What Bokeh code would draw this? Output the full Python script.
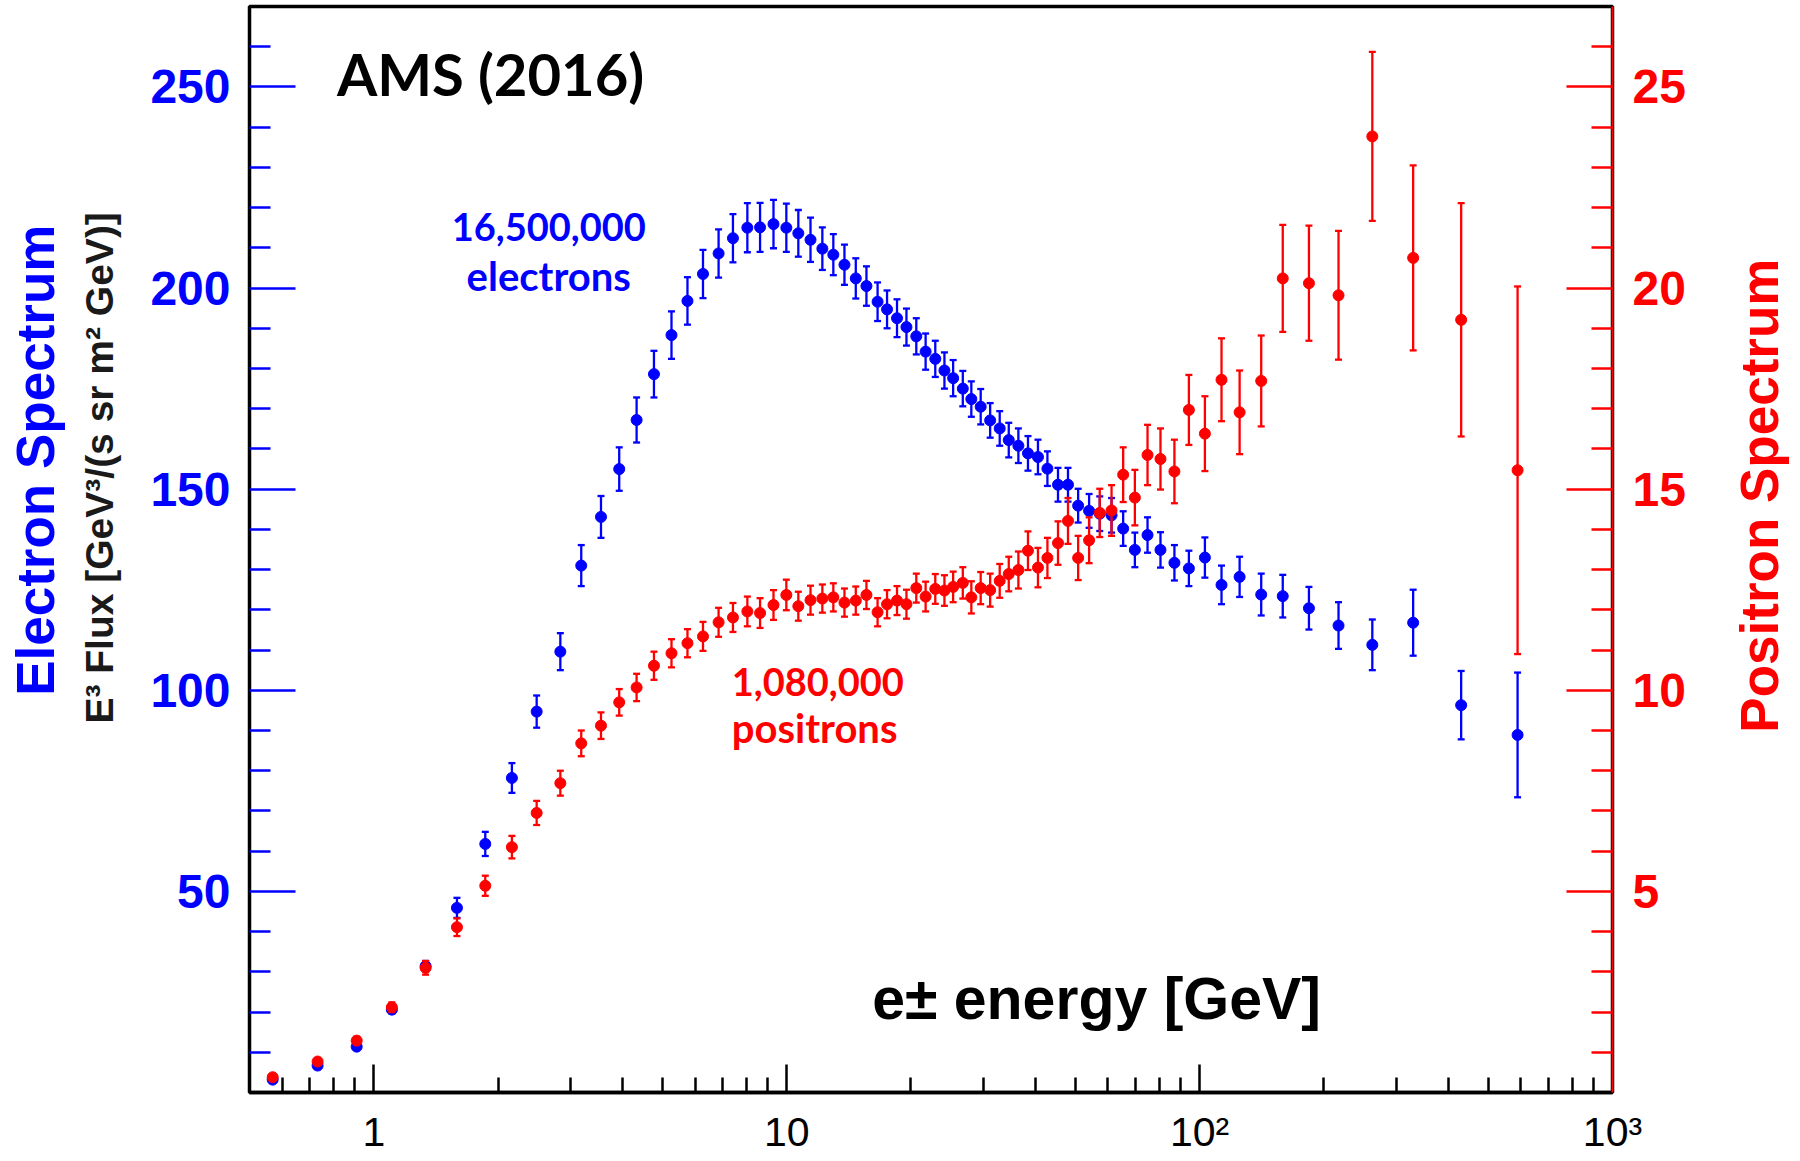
import math
from bokeh.plotting import figure
from bokeh.layouts import row
from bokeh.models import LinearAxis, Range1d, FixedTicker, Label
from bokeh.core.properties import value
from bokeh.embed import file_html
from bokeh.resources import INLINE

# ---------------- data ----------------
energy = [0.569, 0.731, 0.909, 1.106, 1.335, 1.59, 1.862, 2.16, 2.48, 2.83,
          3.18, 3.55, 3.93, 4.33, 4.77, 5.26, 5.75, 6.27, 6.84, 7.41,
          8.03, 8.62, 9.29, 9.98, 10.67, 11.42, 12.2, 12.97, 13.8, 14.7,
          15.6, 16.6, 17.5, 18.5, 19.5, 20.6, 21.7, 22.9, 24.1, 25.3,
          26.7, 28.0, 29.5, 31.1, 32.8, 34.5, 36.4, 38.4, 40.6, 42.8,
          45.4, 48.0, 50.8, 54.0, 57.3, 61.2, 65.3, 69.7, 74.8, 80.4,
          86.9, 94.2, 103, 113, 125, 141, 159, 184, 217, 262,
          329, 430, 589]

electron_flux = [3.2, 6.7, 11.4, 20.6, 31.4, 45.9, 61.8, 78.2, 94.7, 109.6,
                 131.0, 143.1, 155.0, 167.2, 178.6, 188.3, 196.8, 203.5, 208.6, 212.4,
                 215.0, 215.1, 215.9, 215.0, 213.6, 212.0, 209.8, 208.3, 205.8, 202.4,
                 200.5, 196.6, 194.7, 192.5, 190.3, 188.0, 184.2, 182.4, 179.5, 177.6,
                 175.0, 172.4, 170.5, 167.1, 165.1, 162.2, 160.8, 158.9, 158.0, 155.1,
                 151.1, 151.1, 145.9, 144.6, 143.9, 143.5, 140.2, 134.9, 138.6, 134.9,
                 131.7, 130.3, 133.0, 126.2, 128.2, 123.8, 123.4, 120.4, 116.1, 111.3,
                 116.8, 96.3, 88.9]

electron_err = [0.3, 0.4, 0.6, 0.9, 1.3, 2.5, 3.0, 3.7, 4.0, 4.6,
                5.1, 5.2, 5.4, 5.6, 5.8, 5.9, 5.9, 6.0, 6.0, 6.0,
                6.1, 6.1, 6.0, 6.0, 5.8, 5.5, 5.3, 5.1, 5.0, 5.0,
                4.9, 4.8, 4.7, 4.7, 4.6, 4.5, 4.5, 4.5, 4.5, 4.5,
                4.4, 4.4, 4.4, 4.3, 4.3, 4.3, 4.3, 4.3, 4.3, 4.3,
                4.2, 4.2, 4.2, 4.2, 4.3, 4.3, 4.3, 4.3, 4.4, 4.4,
                4.4, 4.4, 5.0, 4.8, 5.0, 5.2, 5.3, 5.3, 5.8, 6.3,
                8.2, 8.5, 15.5]

positron_flux = [0.38, 0.77, 1.29, 2.12, 3.10, 4.11, 5.14, 6.10, 6.95, 7.69,
                 8.68, 9.12, 9.70, 10.07, 10.61, 10.92, 11.17, 11.34, 11.69, 11.81,
                 11.96, 11.92, 12.12, 12.37, 12.09, 12.24, 12.28, 12.31, 12.18, 12.23,
                 12.37, 11.94, 12.14, 12.23, 12.14, 12.54, 12.33, 12.52, 12.48, 12.57,
                 12.67, 12.31, 12.54, 12.49, 12.72, 12.89, 12.99, 13.47, 13.05, 13.29,
                 13.66, 14.21, 13.29, 13.73, 14.41, 14.47, 15.36, 14.79, 15.85, 15.75,
                 15.44, 16.97, 16.38, 17.72, 16.91, 17.69, 20.24, 20.12, 19.82, 23.77,
                 20.75, 19.21, 15.47]

positron_err = [0.05, 0.07, 0.09, 0.12, 0.17, 0.22, 0.25, 0.28, 0.30, 0.31,
                0.32, 0.33, 0.33, 0.34, 0.35, 0.35, 0.35, 0.36, 0.36, 0.36,
                0.37, 0.37, 0.37, 0.38, 0.36, 0.36, 0.35, 0.35, 0.35, 0.35,
                0.35, 0.35, 0.35, 0.36, 0.36, 0.36, 0.37, 0.37, 0.38, 0.38,
                0.39, 0.40, 0.40, 0.41, 0.42, 0.43, 0.46, 0.48, 0.49, 0.50,
                0.54, 0.57, 0.55, 0.57, 0.60, 0.63, 0.68, 0.69, 0.75, 0.76,
                0.79, 0.87, 0.93, 1.03, 1.04, 1.13, 1.33, 1.43, 1.60, 2.10,
                2.30, 2.90, 4.57]

x_major = [1, 10, 100, 1000]
x_minor = [0.6, 0.7, 0.8, 0.9, 2, 3, 4, 5, 6, 7, 8, 9,
           20, 30, 40, 50, 60, 70, 80, 90, 200, 300, 400, 500, 600, 700, 800, 900]
x_labels = {1: "1", 10: "10", 100: "10²", 1000: "10³"}
left_major = [50, 100, 150, 200, 250]
left_minor = [10, 20, 30, 40, 60, 70, 80, 90, 110, 120, 130, 140, 160, 170, 180, 190,
              210, 220, 230, 240, 260]
right_major = [5, 10, 15, 20, 25]
right_minor = [1, 2, 3, 4, 6, 7, 8, 9, 11, 12, 13, 14, 16, 17, 18, 19, 21, 22, 23, 24, 26]

BLUE = "#0000ff"
RED = "#ff0000"
SANS = "Liberation Sans"
CAL = "Lato"

H = 1159
TOP = 6
BOTTOM = 67
WL = 130      # left title strip
WM = 1570     # main plot
WR = 92       # right title strip

y_left = Range1d(0, 270)

# ---------------- main figure ----------------
p = figure(width=WM, height=H, x_axis_type="log",
           x_range=Range1d(0.5, 1000), y_range=y_left,
           output_backend="svg", toolbar_location=None,
           min_border_left=249 - WL, min_border_right=WM - (1612 - WL),
           min_border_top=TOP, min_border_bottom=BOTTOM,
           background_fill_color="white", border_fill_color="white")
p.extra_y_ranges = {"pos": Range1d(0, 27)}
p.xgrid.visible = False
p.ygrid.visible = False
p.outline_line_color = "black"
p.outline_line_width = 3.5
p.outline_line_alpha = 1.0

xa = p.xaxis[0]
xa.ticker = FixedTicker(ticks=x_major, minor_ticks=x_minor)
xa.major_label_overrides = x_labels
xa.axis_line_color = "black"
xa.axis_line_width = 3.5
xa.major_tick_in = 28
xa.major_tick_out = 0
xa.minor_tick_in = 15
xa.minor_tick_out = 0
xa.major_tick_line_color = "black"
xa.minor_tick_line_color = "black"
xa.major_tick_line_width = 2.5
xa.minor_tick_line_width = 2.5
xa.major_label_standoff = 16
xa.major_label_text_font = SANS
xa.major_label_text_font_size = "41px"
xa.major_label_text_font_style = "normal"
xa.major_label_text_color = "black"

ya = p.yaxis[0]
ya.ticker = FixedTicker(ticks=left_major, minor_ticks=left_minor)
ya.axis_line_color = None
ya.major_tick_in = 46
ya.major_tick_out = 0
ya.minor_tick_in = 21
ya.minor_tick_out = 0
ya.major_tick_line_color = BLUE
ya.minor_tick_line_color = BLUE
ya.major_tick_line_width = 2.4
ya.minor_tick_line_width = 2.4
ya.major_label_standoff = 19
ya.major_label_text_font = SANS
ya.major_label_text_font_style = "bold"
ya.major_label_text_font_size = "48px"
ya.major_label_text_color = BLUE

ra = LinearAxis(y_range_name="pos", ticker=FixedTicker(ticks=right_major, minor_ticks=right_minor),
                axis_line_color=RED, axis_line_width=2,
                major_tick_in=46, major_tick_out=0, minor_tick_in=21, minor_tick_out=0,
                major_tick_line_color=RED, minor_tick_line_color=RED,
                major_tick_line_width=2.4, minor_tick_line_width=2.4,
                major_label_standoff=20, major_label_text_font=SANS,
                major_label_text_font_style="bold", major_label_text_font_size="48px",
                major_label_text_color=RED)
p.add_layout(ra, "right")

e_lo = [v - e for v, e in zip(electron_flux, electron_err)]
e_hi = [v + e for v, e in zip(electron_flux, electron_err)]
q_lo = [v - e for v, e in zip(positron_flux, positron_err)]
q_hi = [v + e for v, e in zip(positron_flux, positron_err)]

p.segment(x0=energy, y0=e_lo, x1=energy, y1=e_hi, line_color=BLUE, line_width=2.3)
p.scatter(x=energy, y=e_lo, marker="dash", size=7, line_color=BLUE, line_width=2.3)
p.scatter(x=energy, y=e_hi, marker="dash", size=7, line_color=BLUE, line_width=2.3)
p.scatter(x=energy, y=electron_flux, size=11, fill_color=BLUE, line_color=BLUE)

p.segment(x0=energy, y0=q_lo, x1=energy, y1=q_hi, line_color=RED, line_width=2.3,
          y_range_name="pos")
p.scatter(x=energy, y=q_lo, marker="dash", size=7, line_color=RED, line_width=2.3,
          y_range_name="pos")
p.scatter(x=energy, y=q_hi, marker="dash", size=7, line_color=RED, line_width=2.3,
          y_range_name="pos")
p.scatter(x=energy, y=positron_flux, size=11, fill_color=RED, line_color=RED,
          y_range_name="pos")


def lab(x, y, text, font, size, color, align="left"):
    p.add_layout(Label(x=x, y=y, text=text, text_font=font, text_font_style="bold",
                       text_font_size=size, text_color=color, text_align=align,
                       text_baseline="alphabetic"))


lab(0.814, 253.4, "AMS (2016)", CAL, "58px", "black")
lab(2.653, 215.1, "16,500,000", CAL, "38px", BLUE, align="center")
lab(2.653, 203.0, "electrons", CAL, "40px", BLUE, align="center")
lab(7.36, 102.0, "1,080,000", CAL, "38px", RED)
lab(7.36, 90.6, "positrons", CAL, "40px", RED)
lab(56.3, 23.3, "e± energy [GeV]", SANS, "59px", "black", align="center")


# ---------------- side strips with rotated axis titles ----------------
def strip(width):
    f = figure(width=width, height=H, x_range=Range1d(0, width), y_range=y_left,
               output_backend="svg", toolbar_location=None,
               x_axis_location=None, y_axis_location=None,
               min_border_left=0, min_border_right=0,
               min_border_top=TOP, min_border_bottom=BOTTOM,
               background_fill_color="white", border_fill_color="white",
               outline_line_color=None)
    f.xgrid.visible = False
    f.ygrid.visible = False
    return f


def vtext(f, x, y, text, size, color):
    f.text(x=[x], y=[y], text=[text], angle=math.pi / 2, text_align="center",
           text_baseline="middle", text_font=value(SANS), text_font_style="bold",
           text_font_size=size, text_color=color)


left = strip(WL)
vtext(left, 35, 157.2, "Electron Spectrum", "53px", BLUE)
vtext(left, 99, 155.3, "E³ Flux [GeV³/(s sr m² GeV)]", "39px", "#1a1a1a")

right = strip(WR)
vtext(right, 1759 - (WL + WM), 148.4, "Positron Spectrum", "53px", RED)

layout = row(left, p, right, spacing=0)
open("out.html", "w").write(file_html(layout, INLINE))
